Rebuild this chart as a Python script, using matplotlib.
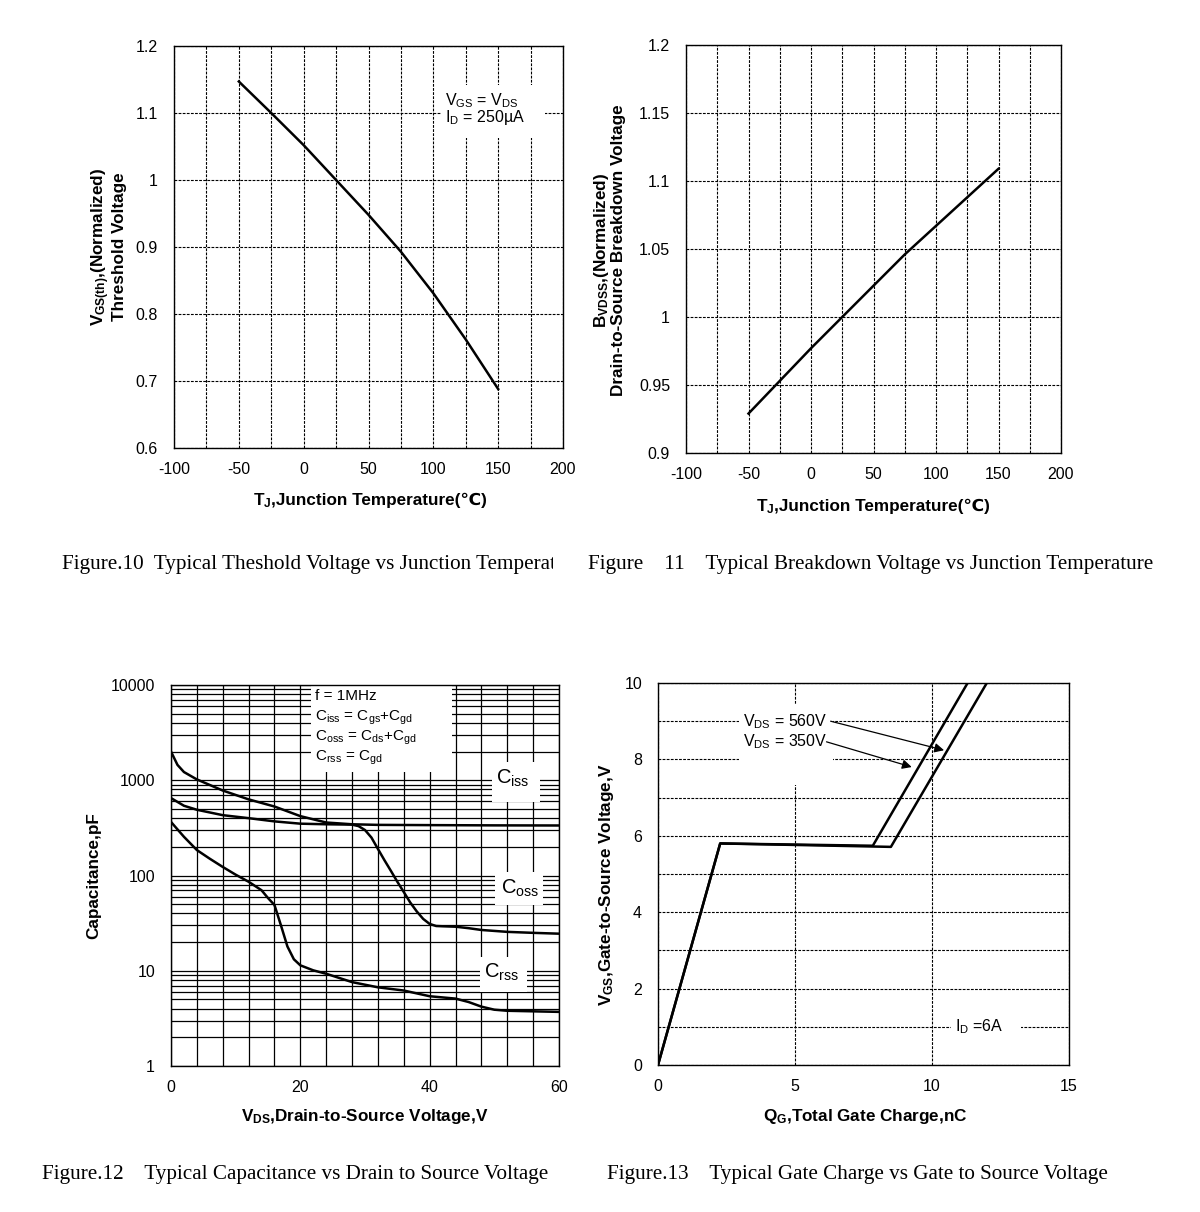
import matplotlib
matplotlib.use("Agg")
import matplotlib.pyplot as plt
from matplotlib.patches import Rectangle
from matplotlib.transforms import Bbox

plt.rcParams['font.family'] = ['Liberation Sans', 'DejaVu Sans']
plt.rcParams['mathtext.fontset'] = 'custom'
plt.rcParams['mathtext.rm'] = 'Liberation Sans'
plt.rcParams['mathtext.bf'] = 'Liberation Sans:bold'
plt.rcParams['mathtext.it'] = 'Liberation Sans'
plt.rcParams['mathtext.default'] = 'regular'
plt.rcParams['axes.unicode_minus'] = False

# Figure 10: normalized threshold voltage
tj_vth = [-50, -25, 0, 25, 50, 75, 100, 125, 150]
vth_norm = [1.147, 1.100, 1.052, 1.000, 0.948, 0.893, 0.831, 0.762, 0.688]

# Figure 11: normalized breakdown voltage
tj_bv = [-50, -25, 0, 25, 50, 75, 100, 125, 150]
bv_norm = [0.929, 0.953, 0.977, 1.000, 1.023, 1.046, 1.067, 1.088, 1.109]

# Figure 12: capacitances (pF)
vds_ciss = [0, 1, 2, 4, 8, 12, 16, 20, 24, 28, 32, 40, 50, 60]
ciss = [2000, 1450, 1220, 1020, 780, 630, 530, 420, 360, 345, 340, 338, 336, 335]
vds_coss = [0, 2, 4, 8, 12, 16, 20, 24, 28, 29, 30, 31, 32, 33, 34, 35, 36, 37,
            38, 39, 40, 41, 42, 44, 46, 48, 52, 56, 60]
coss = [650, 540, 490, 430, 400, 370, 350, 345, 342, 330, 300, 250, 190, 145,
        112, 86, 67, 52, 42, 35, 31, 29.5, 29.3, 29, 28, 26.8, 25.6, 25, 24.5]
vds_crss = [0, 2, 4, 6, 8, 10, 12, 14, 15, 16, 17, 18, 19, 20, 22, 24, 28, 32,
            36, 40, 44, 46, 48, 50, 52, 56, 60]
crss = [365, 255, 185, 150, 123, 102, 86, 70, 58, 49, 30, 18, 13.2, 11.4, 10.1,
        9.3, 7.6, 6.7, 6.2, 5.4, 5.1, 4.7, 4.2, 3.9, 3.8, 3.75, 3.7]

# Figure 13: gate charge
qg_350 = [0, 2.27, 7.84, 11.3]
vgs_350 = [0, 5.8, 5.74, 10]
qg_560 = [0, 2.27, 8.5, 12.0]
vgs_560 = [0, 5.8, 5.71, 10]

dash = (0, (2.5, 1.2))
TICK = 11.5
LAB = 12.3
NOTE = 11.5

W, H = 1200, 1212
fig = plt.figure(figsize=(12, 12.12), dpi=100)
renderer = fig.canvas.get_renderer()


def style(ax, pad_x=10, pad_y=11.5):
    ax.set_axisbelow(True)
    ax.tick_params(which='both', length=0, labelsize=TICK)
    ax.tick_params(axis='x', pad=pad_x)
    ax.tick_params(axis='y', pad=pad_y)
    for s in ax.spines.values():
        s.set_linewidth(1.0)


def split_label(xc, yc, math_part, plain_part):
    # horizontal label: mathtext piece followed by a plain text piece
    kw = dict(fontsize=LAB, fontweight='bold', va='baseline', ha='left')
    t1 = fig.text(0, 0, math_part, **kw)
    t2 = fig.text(0, 0, plain_part, **kw)
    w1 = t1.get_window_extent(renderer).width
    w2 = t2.get_window_extent(renderer).width
    x0 = xc - (w1 + w2) / 2
    t1.set_position((x0 / W, 1 - yc / H))
    t2.set_position(((x0 + w1) / W, 1 - yc / H))


# ---- Figure 10
ax1 = fig.add_axes([174 / W, 1 - 448 / H, 389 / W, 402 / H])
ax1.plot(tj_vth, vth_norm, color='black', lw=1.8, zorder=3)
ax1.set_xlim(-100, 200)
ax1.set_ylim(0.6, 1.2)
ax1.set_xticks(range(-100, 201, 50))
ax1.set_xticks(range(-75, 200, 50), minor=True)
ax1.set_yticks([0.6, 0.7, 0.8, 0.9, 1.0, 1.1, 1.2])
ax1.set_yticklabels(['0.6', '0.7', '0.8', '0.9', '1', '1.1', '1.2'])
ax1.grid(which='both', color='black', ls=dash, lw=0.8)
style(ax1)
ax1.add_patch(Rectangle((106, 1.062), 80, 0.08, facecolor='white', edgecolor='none', zorder=1))
ax1.text(109, 1.119, r'$V_{GS}$ = $V_{DS}$', fontsize=NOTE, va='center', zorder=4)
ax1.text(109, 1.093, r'$I_D$ = 250µA', fontsize=NOTE, va='center', zorder=4)
split_label(370, 505, r'$\mathbf{T}_J$', ',Junction Temperature(℃)')
fig.text(108 / W, 1 - 247 / H, '$\\mathbf{V}_{GS(th)}$,(Normalized)\nThreshold Voltage',
         fontsize=LAB, fontweight='bold', ha='center', va='center', rotation=90,
         linespacing=1.0)

# ---- Figure 11
ax2 = fig.add_axes([686 / W, 1 - 453 / H, 375 / W, 408 / H])
ax2.plot(tj_bv, bv_norm, color='black', lw=1.8, zorder=3)
ax2.set_xlim(-100, 200)
ax2.set_ylim(0.9, 1.2)
ax2.set_xticks(range(-100, 201, 50))
ax2.set_xticks(range(-75, 200, 50), minor=True)
ax2.set_yticks([0.9, 0.95, 1.0, 1.05, 1.1, 1.15, 1.2])
ax2.set_yticklabels(['0.9', '0.95', '1', '1.05', '1.1', '1.15', '1.2'])
ax2.grid(which='both', color='black', ls=dash, lw=0.8)
style(ax2)
split_label(873, 511, r'$\mathbf{T}_J$', ',Junction Temperature(℃)')
fig.text(609 / W, 1 - 250 / H, '$\\mathbf{B}_{VDSS}$,(Normalized)\nDrain-to-Source Breakdown Voltage',
         fontsize=LAB, fontweight='bold', ha='center', va='center', rotation=90,
         linespacing=1.0)

# ---- Figure 12
ax3 = fig.add_axes([171 / W, 1 - 1066 / H, 388 / W, 381 / H])
ax3.set_yscale('log')
ax3.plot(vds_ciss, ciss, color='black', lw=1.8, zorder=3)
ax3.plot(vds_coss, coss, color='black', lw=1.8, zorder=3)
ax3.plot(vds_crss, crss, color='black', lw=1.8, zorder=3)
ax3.set_xlim(0, 60)
ax3.set_ylim(1, 10000)
ax3.set_xticks([0, 20, 40, 60])
ax3.set_xticks(range(4, 60, 4), minor=True)
ax3.set_yticks([1, 10, 100, 1000, 10000])
ax3.set_yticklabels(['1', '10', '100', '1000', '10000'])
minor_y = [m * 10 ** d for d in range(4) for m in range(2, 10)]
ax3.set_yticks(minor_y, minor=True)
ax3.set_yticklabels([], minor=True)
ax3.grid(which='both', color='black', ls='-', lw=0.9)
style(ax3)
ax3.add_patch(Rectangle((21.65, 1230), 21.75, 8770, facecolor='white', edgecolor='none', zorder=1))
ax3.add_patch(Rectangle((49.6, 594), 7.5, 969, facecolor='white', edgecolor='none', zorder=1))
ax3.add_patch(Rectangle((50.1, 48.8), 7.5, 60.2, facecolor='white', edgecolor='none', zorder=1))
ax3.add_patch(Rectangle((47.8, 6.0), 7.2, 7.97, facecolor='white', edgecolor='none', zorder=1))
for txt, yv in [('f = 1MHz', 7700), (r'$C_{iss}$ = $C_{gs}$+$C_{gd}$', 4560),
                (r'$C_{oss}$ = $C_{ds}$+$C_{gd}$', 2797), (r'$C_{rss}$ = $C_{gd}$', 1700)]:
    ax3.text(22.3, yv, txt, fontsize=11, va='center', zorder=4)
ax3.text(52.8, 1047, r'$C_{iss}$', fontsize=14.5, ha='center', va='center', zorder=4)
ax3.text(54.0, 73, r'$C_{oss}$', fontsize=14.5, ha='center', va='center', zorder=4)
ax3.text(51.1, 9.7, r'$C_{rss}$', fontsize=14.5, ha='center', va='center', zorder=4)
fig.text(365 / W, 1 - 1117 / H, r'$\mathbf{V}_{DS}$,Drain-to-Source Voltage,V',
         fontsize=LAB, fontweight='bold', ha='center', va='center')
fig.text(94 / W, 1 - 876 / H, 'Capacitance,pF', fontsize=LAB, fontweight='bold',
         ha='center', va='center', rotation=90)

# ---- Figure 13
ax4 = fig.add_axes([658 / W, 1 - 1065 / H, 411 / W, 382 / H])
ax4.plot(qg_350, vgs_350, color='black', lw=1.8, zorder=3)
ax4.plot(qg_560, vgs_560, color='black', lw=1.8, zorder=3)
ax4.set_xlim(0, 15)
ax4.set_ylim(0, 10)
ax4.set_xticks([0, 5, 10, 15])
ax4.set_yticks([0, 2, 4, 6, 8, 10])
ax4.set_yticks([1, 3, 5, 7, 9], minor=True)
ax4.grid(which='both', color='black', ls=dash, lw=0.8)
style(ax4)
ax4.add_patch(Rectangle((2.95, 7.32), 3.45, 2.14, facecolor='white', edgecolor='none', zorder=1))
ax4.add_patch(Rectangle((10.71, 0.7), 2.55, 0.6, facecolor='white', edgecolor='none', zorder=1))
ax4.text(3.1, 8.98, r'$V_{DS}$ = 560V', fontsize=NOTE, va='center', zorder=4)
ax4.text(3.1, 8.47, r'$V_{DS}$ = 350V', fontsize=NOTE, va='center', zorder=4)
ax4.annotate('', xy=(10.44, 8.24), xytext=(6.3, 9.0), zorder=4,
             arrowprops=dict(arrowstyle='-|>', color='black', lw=0.9, mutation_scale=14,
                             shrinkA=0, shrinkB=0))
ax4.annotate('', xy=(9.26, 7.8), xytext=(6.15, 8.46), zorder=4,
             arrowprops=dict(arrowstyle='-|>', color='black', lw=0.9, mutation_scale=14,
                             shrinkA=0, shrinkB=0))
ax4.text(10.84, 1.0, r'$I_D$ =6A', fontsize=NOTE, va='center', zorder=4)
fig.text(865 / W, 1 - 1117 / H, r'$\mathbf{Q}_G$,Total Gate Charge,nC',
         fontsize=LAB, fontweight='bold', ha='center', va='center')
fig.text(606 / W, 1 - 885 / H, r'$\mathbf{V}_{GS}$,Gate-to-Source Voltage,V',
         fontsize=LAB, fontweight='bold', ha='center', va='center', rotation=90)

# ---- captions
cap = dict(fontsize=15.2, family='Liberation Serif', va='center')
c1 = fig.text(62 / W, 1 - 564 / H, 'Figure.10  Typical Theshold Voltage vs Junction Temperature', **cap)
c1.set_clip_box(Bbox([[0, 0], [553, H]]))
c1.set_clip_on(True)
fig.text(588 / W, 1 - 564 / H, 'Figure    11    Typical Breakdown Voltage vs Junction Temperature', **cap)
fig.text(42 / W, 1 - 1175 / H, 'Figure.12    Typical Capacitance vs Drain to Source Voltage', **cap)
fig.text(607 / W, 1 - 1174 / H, 'Figure.13    Typical Gate Charge vs Gate to Source Voltage', **cap)

fig.savefig('out.png', dpi=100, facecolor='white')
